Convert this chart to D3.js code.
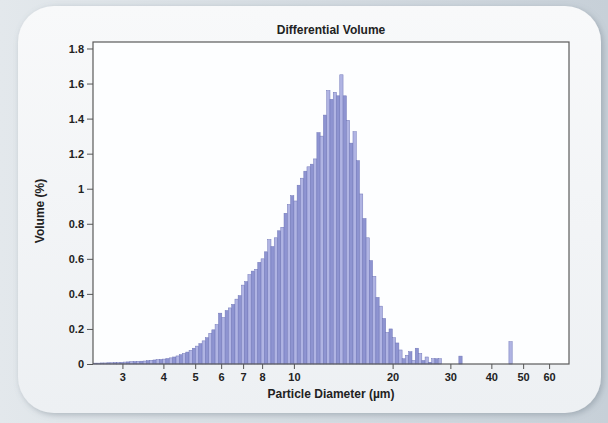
<!DOCTYPE html>
<html>
<head>
<meta charset="utf-8">
<script src="https://cdn.jsdelivr.net/npm/d3@7"></script>
<style>
  html, body { margin: 0; padding: 0; background: #d8dfe5; }
  svg { display: block; }
  text { font-family: "Liberation Sans", Arial, sans-serif; fill: #222; }
</style>
</head>
<body>
<svg id="chart" width="608" height="423"></svg>
<script>
// Channel lower edges (µm), one per measurement channel
const diameters = [
  2.45, 2.51, 2.57, 2.63, 2.69, 2.75, 2.82, 2.88, 2.95, 3.02,
  3.09, 3.16, 3.24, 3.31, 3.39, 3.47, 3.55, 3.63, 3.72, 3.80,
  3.89, 3.98, 4.07, 4.17, 4.27, 4.37, 4.47, 4.57, 4.68, 4.79,
  4.90, 5.01, 5.13, 5.25, 5.37, 5.50, 5.62, 5.75, 5.89, 6.03,
  6.17, 6.31, 6.46, 6.61, 6.76, 6.92, 7.08, 7.24, 7.41, 7.59,
  7.76, 7.94, 8.13, 8.32, 8.51, 8.71, 8.91, 9.12, 9.33, 9.55,
  9.77, 10.00, 10.23, 10.47, 10.72, 10.96, 11.22, 11.48, 11.75, 12.02,
  12.30, 12.59, 12.88, 13.18, 13.49, 13.80, 14.13, 14.45, 14.79, 15.14,
  15.49, 15.85, 16.22, 16.60, 16.98, 17.38, 17.78, 18.20, 18.62, 19.05,
  19.50, 19.95, 20.42, 20.89, 21.38, 21.88, 22.39, 22.91, 23.44, 23.99,
  24.55, 25.12, 25.70, 26.30, 26.92, 27.54, 31.84, 45.25
];

// Differential volume (%) per channel
const volumes = [
  0.005, 0.005, 0.006, 0.006, 0.007, 0.007, 0.008, 0.008, 0.009, 0.011,
  0.012, 0.013, 0.014, 0.015, 0.016, 0.017, 0.019, 0.021, 0.023, 0.025,
  0.026, 0.028, 0.031, 0.035, 0.040, 0.046, 0.053, 0.060, 0.068, 0.078,
  0.090, 0.102, 0.116, 0.132, 0.150, 0.175, 0.195, 0.225, 0.290, 0.265,
  0.305, 0.32, 0.34, 0.37, 0.39, 0.45, 0.47, 0.51, 0.53, 0.54,
  0.58, 0.60, 0.64, 0.71, 0.67, 0.72, 0.76, 0.78, 0.86, 0.91,
  0.96, 0.93, 1.02, 1.06, 1.10, 1.125, 1.14, 1.17, 1.32, 1.30,
  1.42, 1.56, 1.51, 1.55, 1.53, 1.65, 1.53, 1.39, 1.26, 1.325,
  1.16, 0.97, 0.83, 0.72, 0.59, 0.50, 0.38, 0.33, 0.26, 0.18,
  0.20, 0.15, 0.12, 0.08, 0.03, 0.05, 0.07, 0.02, 0.09, 0.06,
  0.02, 0.04, 0.01, 0.03, 0.03, 0.03, 0.045, 0.127
];

const xTicks = [3, 4, 5, 6, 7, 8, 10, 20, 30, 40, 50, 60];
const yTicks = [0, 0.2, 0.4, 0.6, 0.8, 1, 1.2, 1.4, 1.6, 1.8];
const channelRatio = 1.0233; // each channel spans d .. d * ratio

const svg = d3.select("#chart");
const W = 608, H = 423;
const plot = { left: 93, top: 42, right: 569, bottom: 364 };

const defs = svg.append("defs");
const bg = defs.append("linearGradient").attr("id", "bg").attr("x1", 0).attr("x2", 1).attr("y1", 0).attr("y2", 0);
bg.append("stop").attr("offset", "0%").attr("stop-color", "#e3e8ec");
bg.append("stop").attr("offset", "100%").attr("stop-color", "#c7d0d8");
const pn = defs.append("linearGradient").attr("id", "panel").attr("x1", 0).attr("x2", 0).attr("y1", 0).attr("y2", 1);
pn.append("stop").attr("offset", "0%").attr("stop-color", "#f8f9fa");
pn.append("stop").attr("offset", "100%").attr("stop-color", "#edf0f3");
const sh = defs.append("filter").attr("id", "shadow").attr("x", -0.05).attr("y", -0.05).attr("width", 1.12).attr("height", 1.12);
sh.append("feDropShadow").attr("dx", 2).attr("dy", 2).attr("stdDeviation", 3)
  .attr("flood-color", "#6d7a86").attr("flood-opacity", 0.45);

svg.append("rect").attr("width", W).attr("height", H).attr("fill", "url(#bg)");
svg.append("rect")
  .attr("x", 18).attr("y", 6).attr("width", 583).attr("height", 407)
  .attr("rx", 36).attr("ry", 36)
  .attr("fill", "url(#panel)").attr("filter", "url(#shadow)");

const x = d3.scaleLog().domain([2.44, 69]).range([plot.left, plot.right]);
const y = d3.scaleLinear().domain([0, 1.837]).range([plot.bottom, plot.top]);

// plot area
svg.append("rect")
  .attr("x", plot.left).attr("y", plot.top)
  .attr("width", plot.right - plot.left).attr("height", plot.bottom - plot.top)
  .attr("fill", "#fdfeff");

const data = diameters.map((d, i) => ({ d, v: volumes[i], i }));

svg.append("g").selectAll("rect").data(data).join("rect")
  .attr("x", p => x(p.d))
  .attr("width", p => Math.max(0.8, x(p.d * channelRatio) - x(p.d)))
  .attr("y", p => y(p.v))
  .attr("height", p => y(0) - y(p.v))
  .attr("fill", p => p.i % 2 ? "#b0b4e3" : "#8e94d1")
  .attr("stroke", "#7076b8")
  .attr("stroke-width", 0.5);

// frame
svg.append("rect")
  .attr("x", plot.left).attr("y", plot.top)
  .attr("width", plot.right - plot.left).attr("height", plot.bottom - plot.top)
  .attr("fill", "none").attr("stroke", "#5a5a5a").attr("stroke-width", 1.2);

const fmt = d3.format("~g");

const yAxis = svg.append("g")
  .attr("transform", `translate(${plot.left},0)`)
  .call(d3.axisLeft(y).tickValues(yTicks).tickFormat(fmt).tickSize(6).tickPadding(3));
yAxis.select(".domain").remove();
yAxis.selectAll("line").attr("stroke", "#555");
yAxis.selectAll("text").attr("font-size", 11).attr("font-weight", "bold").attr("fill", "#2a2a2a")
  .attr("font-family", "Liberation Sans, Arial, sans-serif");

const xAxis = svg.append("g")
  .attr("transform", `translate(0,${plot.bottom})`)
  .call(d3.axisBottom(x).tickValues(xTicks).tickFormat(fmt).tickSize(5).tickPadding(4));
xAxis.select(".domain").remove();
xAxis.selectAll("line").attr("stroke", "#555");
xAxis.selectAll("text").attr("font-size", 11).attr("font-weight", "bold").attr("fill", "#2a2a2a")
  .attr("font-family", "Liberation Sans, Arial, sans-serif");

svg.append("text")
  .attr("x", (plot.left + plot.right) / 2).attr("y", 34)
  .attr("text-anchor", "middle").attr("font-size", 12).attr("font-weight", "bold")
  .text("Differential Volume");

svg.append("text")
  .attr("x", (plot.left + plot.right) / 2).attr("y", 398)
  .attr("text-anchor", "middle").attr("font-size", 12).attr("font-weight", "bold")
  .text("Particle Diameter (µm)");

svg.append("text")
  .attr("transform", "translate(44,211) rotate(-90)")
  .attr("text-anchor", "middle").attr("font-size", 12).attr("font-weight", "bold")
  .text("Volume (%)");
</script>
</body>
</html>
